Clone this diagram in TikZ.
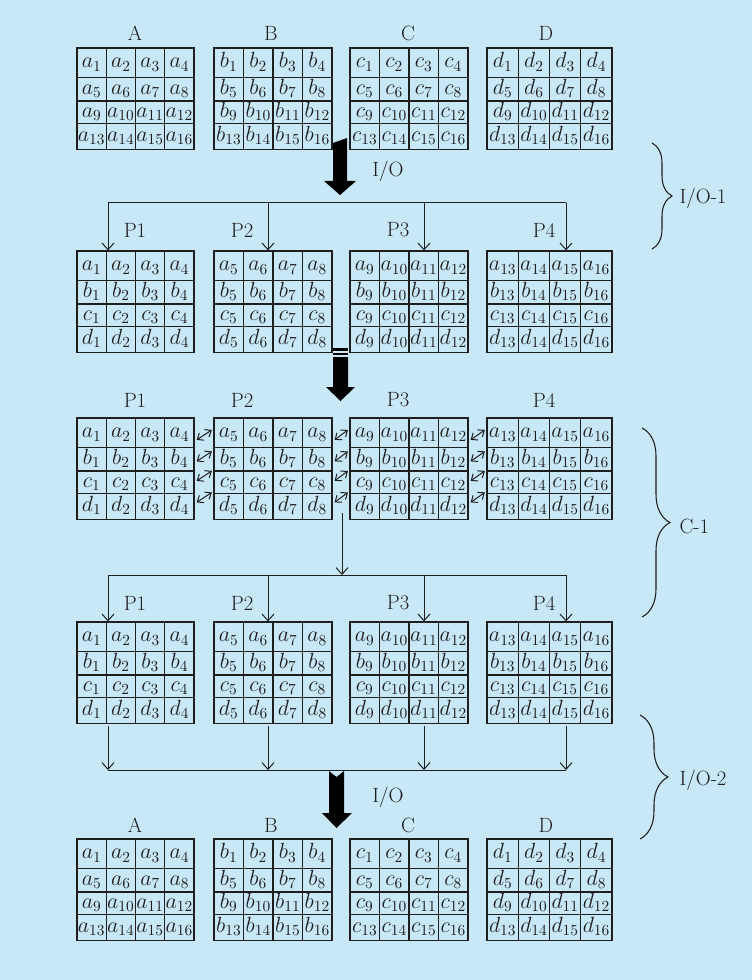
\RequirePackage{fix-cm}
\documentclass[tikz,border=0pt]{standalone}
\usepackage{xcolor}
\usepackage{tikz}
\usetikzlibrary{calc,fit,arrows.meta,decorations.pathreplacing}

\definecolor{sheet}{RGB}{200,232,248}
\definecolor{ink}{RGB}{30,30,30}

\tikzset{
  gridbox/.style={draw=ink,line width=0.9pt,inner sep=0pt},
  gridline/.style={draw=ink,line width=0.9pt},
  cellnum/.style={text=ink,anchor=base,inner sep=0pt,font=\fontsize{16.5}{19}\selectfont},
  lbl/.style={text=ink,inner sep=1pt,font=\fontsize{15.5}{18}\selectfont},
  feed/.style={draw=ink,line width=0.75pt,-{Straight Barb[length=5pt,width=9pt]}},
  bus/.style={draw=ink,line width=0.75pt},
  swap/.style={draw=ink,line width=0.75pt,{Straight Barb[length=4pt,width=6.5pt]}-{Straight Barb[length=4pt,width=6.5pt]}},
  curly/.style={draw=ink,line width=0.8pt,decorate,decoration={brace,amplitude=#1}}
}

\newcommand{\rowletter}{\ifcase\ri\relax a\or b\or c\or d\fi}
\newcommand{\cellgrid}[6]{%
  \path (#2,#3) coordinate (#1-nw) ++(#4,101.5) coordinate (#1-se);
  \node[gridbox,fit=(#1-nw)(#1-se)] (#1) {};
  \foreach \ci in {1,2,3}
    \draw[gridline] ($(#1-nw)+(\ci*#4/4,0)$) -- ++(0,101.5);
  \foreach \ry in {29.5,53,75.5}
    \draw[gridline] ($(#1-nw)+(0,\ry)$) -- ++(#4,0);
  \foreach \ri/\yc in {0/14.75,1/41.25,2/64.25,3/88.5}
    \foreach \ci in {0,...,3}{
      \pgfmathtruncatemacro\idx{#6}
      \node[cellnum] at ($(#1-nw)+({(\ci+0.5)*#4/4},\yc+5)$) {$#5_{\idx}$};
    }%
}

\begin{document}
\begin{tikzpicture}[x=0.75pt,y=-0.75pt]
\fill[sheet] (0,0) rectangle (752,980);
\useasboundingbox (0,0) rectangle (752,980);

\node[lbl] (labA) at (135,33) {A};
\node[lbl] (labB) at (271,33) {B};
\node[lbl] (labC) at (408,33) {C};
\node[lbl] (labD) at (546,33) {D};
\cellgrid{ina}{77}{48}{117}{a}{4*\ri+\ci+1}
\cellgrid{inb}{214}{48}{118}{b}{4*\ri+\ci+1}
\cellgrid{inc}{350}{48}{118}{c}{4*\ri+\ci+1}
\cellgrid{ind}{487}{48}{125}{d}{4*\ri+\ci+1}

\fill[black] (333,143) -- (347,138) -- (347,181) -- (356,181) -- (340,195) -- (324,181) -- (333,181) -- cycle;
\node[lbl] (ioin) at (388,171) {I/O};

\foreach \n/\x in {1/135,2/242,3/398,4/544}
  \node[lbl] (pld\n) at (\x,230) {P\n};
\cellgrid{ld1}{77}{251}{117}{\rowletter}{\ci+1}
\cellgrid{ld2}{214}{251}{118}{\rowletter}{\ci+5}
\cellgrid{ld3}{350}{251}{118}{\rowletter}{\ci+9}
\cellgrid{ld4}{487}{251}{125}{\rowletter}{\ci+13}
\coordinate (bus1) at (108,203);
\draw[bus] (bus1) -- (566,203);
\foreach \g/\x in {ld1/108,ld2/268,ld3/424,ld4/566}{
  \coordinate (drop) at (\x,203);
  \draw[feed] (drop) -- (drop |- \g.north);
}

\fill[black] (333,348) rectangle (348,350.5);
\fill[black] (333,352.5) rectangle (348,355);
\fill[black] (333,357) -- (348,357) -- (348,387) -- (355,387) -- (340.5,401) -- (326,387) -- (333,387) -- cycle;

\foreach \n/\x in {1/135,2/242,3/398,4/544}
  \node[lbl] (pcm\n) at (\x,400) {P\n};
\cellgrid{cm1}{77}{418}{117}{\rowletter}{\ci+1}
\cellgrid{cm2}{214}{418}{118}{\rowletter}{\ci+5}
\cellgrid{cm3}{350}{418}{118}{\rowletter}{\ci+9}
\cellgrid{cm4}{487}{418}{125}{\rowletter}{\ci+13}
\foreach \l/\r in {cm1/cm2,cm2/cm3,cm3/cm4}
  \foreach \yo in {17.5,39,58.5,80}
    \draw[swap] ($(\l.north east)+(2,\yo+5)$) -- ($(\r.north west)+(-1.5,\yo-5)$);

\foreach \n/\x in {1/135,2/242,3/398,4/544}
  \node[lbl] (pfn\n) at (\x,603) {P\n};
\cellgrid{fn1}{77}{622}{117}{\rowletter}{\ci+1}
\cellgrid{fn2}{214}{622}{118}{\rowletter}{\ci+5}
\cellgrid{fn3}{350}{622}{118}{\rowletter}{\ci+9}
\cellgrid{fn4}{487}{622}{125}{\rowletter}{\ci+13}
\coordinate (mix) at (342,513);
\coordinate (bus2) at (342,575);
\draw[feed] (mix) -- (bus2);
\draw[bus] (108,575) -- (566,575);
\foreach \g/\x in {fn1/108,fn2/268,fn3/424,fn4/566}{
  \coordinate (drop) at (\x,575);
  \draw[feed] (drop) -- (drop |- \g.north);
}

\foreach \g/\x in {fn1/108,fn2/268,fn3/424,fn4/566}{
  \coordinate (drop) at (\x,770);
  \draw[feed,shorten <=1.5pt] (drop |- \g.south) -- (drop);
}
\coordinate (bus3) at (108,770);
\draw[bus] (bus3) -- (566,770);

\fill[black] (329,771) -- (336.5,777) -- (344,771) -- (344,813) -- (352,813) -- (336.5,828) -- (322,813) -- (329,813) -- cycle;
\node[lbl] (ioout) at (388,797) {I/O};

\node[lbl] (outlabA) at (135,825) {A};
\node[lbl] (outlabB) at (271,825) {B};
\node[lbl] (outlabC) at (408,825) {C};
\node[lbl] (outlabD) at (546,825) {D};
\cellgrid{outa}{77}{839}{117}{a}{4*\ri+\ci+1}
\cellgrid{outb}{214}{839}{118}{b}{4*\ri+\ci+1}
\cellgrid{outc}{350}{839}{118}{c}{4*\ri+\ci+1}
\cellgrid{outd}{487}{839}{125}{d}{4*\ri+\ci+1}

\draw[curly=15pt] (652,143) -- (652,249);
\node[lbl,anchor=west] (phase1) at (678,198) {I/O-1};
\draw[curly=21pt] (642,428) -- (642,617);
\node[lbl,anchor=west] (phase2) at (678,526) {C-1};
\draw[curly=21pt] (640,715) -- (640,839);
\node[lbl,anchor=west] (phase3) at (678,780) {I/O-2};
\end{tikzpicture}
\end{document}
